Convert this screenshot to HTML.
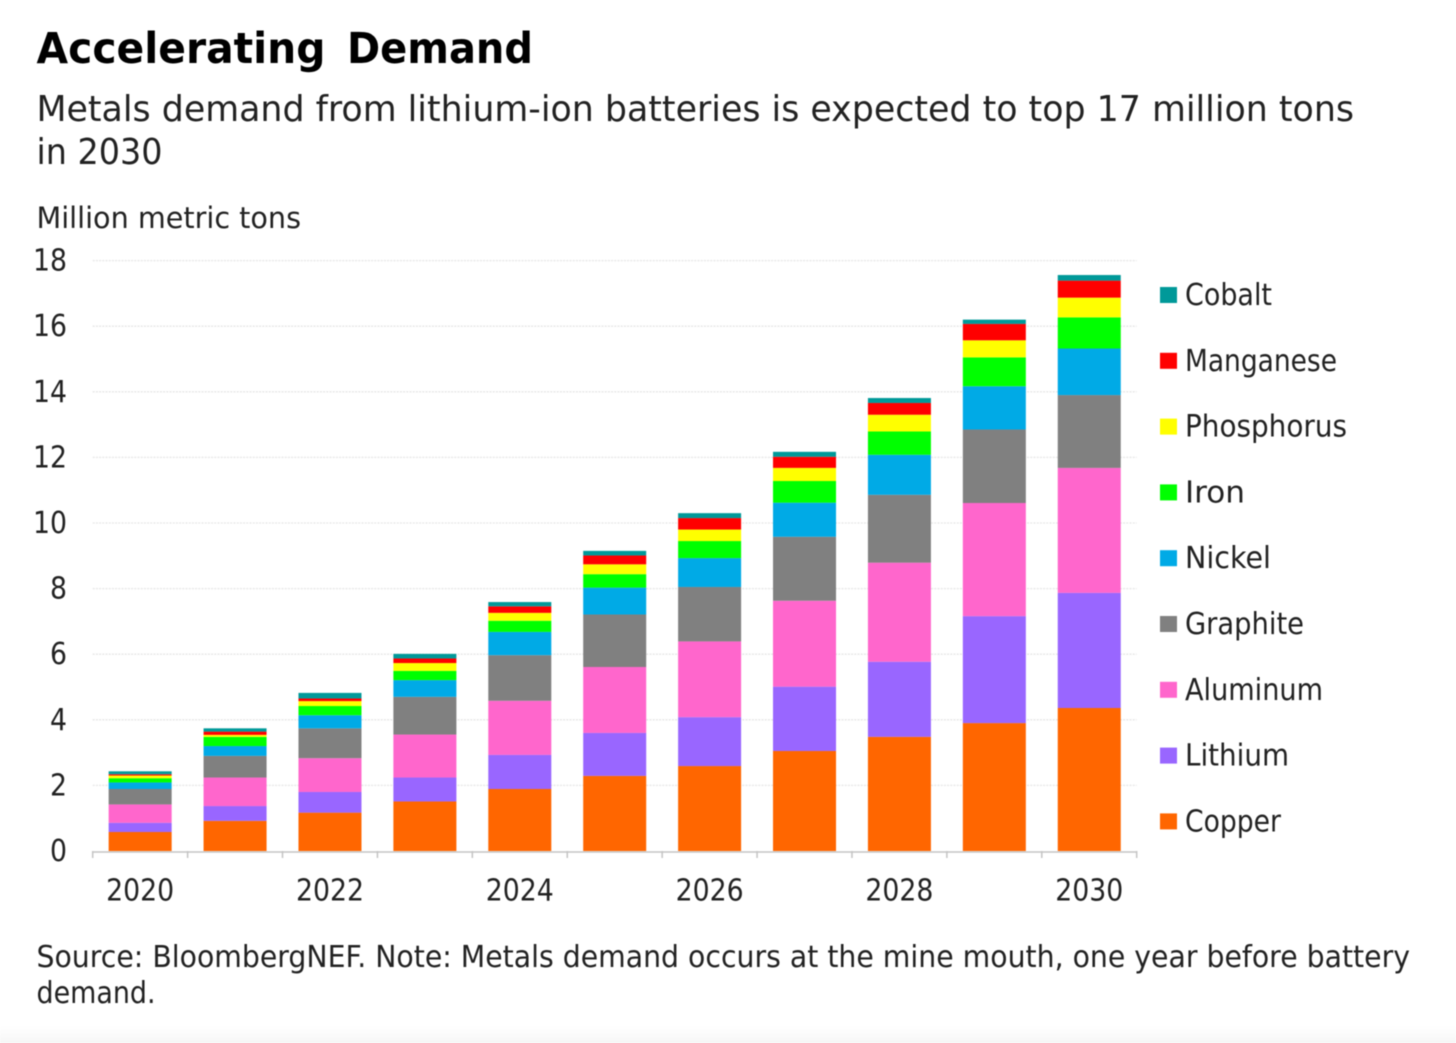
<!DOCTYPE html>
<html lang="en">
<head>
<meta charset="utf-8">
<title>Accelerating Demand</title>
<style>
html,body{margin:0;padding:0;background:#fff;width:1456px;height:1043px;overflow:hidden}
svg{display:block;filter:blur(0.6px)}
text{font-family:"DejaVu Sans","Liberation Sans",sans-serif;fill:#222}
</style>
</head>
<body>
<svg id="chart" xmlns="http://www.w3.org/2000/svg" width="1456" height="1043" viewBox="0 0 1456 1043">
  <defs>
    <linearGradient id="bottom-fade" x1="0" y1="0" x2="0" y2="1">
      <stop offset="0" stop-color="#ffffff"/>
      <stop offset="1" stop-color="#f6f6f6"/>
    </linearGradient>
  </defs>
  <rect x="0" y="0" width="1456" height="1043" fill="#fff"/>
  <rect x="0" y="1026" width="1456" height="17" fill="url(#bottom-fade)"/>
  <text x="36.5" y="63" font-size="43" font-weight="700" style="fill:#000" textLength="289" lengthAdjust="spacingAndGlyphs">Accelerating</text>
  <text x="347" y="63" font-size="43" font-weight="700" style="fill:#000" textLength="186" lengthAdjust="spacingAndGlyphs">Demand</text>
  <text x="36.5" y="121" font-size="36" textLength="1317.5" lengthAdjust="spacingAndGlyphs">Metals demand from lithium-ion batteries is expected to top 17 million tons</text>
  <text x="36.5" y="164" font-size="36" textLength="126" lengthAdjust="spacingAndGlyphs">in 2030</text>
  <text x="36.5" y="228" font-size="29" textLength="264.5" lengthAdjust="spacingAndGlyphs">Million metric tons</text>
  <g id="grid"></g>
  <g id="bars"></g>
  <g id="axes"></g>
  <g id="legend"></g>
  <text x="36.5" y="967" font-size="30" textLength="1373.5" lengthAdjust="spacingAndGlyphs">Source: BloombergNEF. Note: Metals demand occurs at the mine mouth, one year before battery</text>
  <text x="36.5" y="1003" font-size="30" textLength="119" lengthAdjust="spacingAndGlyphs">demand.</text>
</svg>
<script>
var years = [2020, 2021, 2022, 2023, 2024, 2025, 2026, 2027, 2028, 2029, 2030];
var copper = [0.58, 0.92, 1.17, 1.51, 1.89, 2.29, 2.59, 3.05, 3.48, 3.90, 4.36];
var lithium = [0.28, 0.45, 0.63, 0.73, 1.04, 1.31, 1.49, 1.96, 2.29, 3.26, 3.51];
var aluminum = [0.56, 0.87, 1.03, 1.31, 1.65, 2.01, 2.31, 2.62, 3.02, 3.45, 3.81];
var graphite = [0.47, 0.66, 0.91, 1.15, 1.39, 1.60, 1.66, 1.95, 2.07, 2.24, 2.22];
var nickel = [0.20, 0.30, 0.40, 0.51, 0.71, 0.82, 0.88, 1.04, 1.22, 1.32, 1.42];
var iron = [0.13, 0.28, 0.28, 0.28, 0.34, 0.41, 0.52, 0.66, 0.71, 0.88, 0.95];
var phosphorus = [0.08, 0.06, 0.15, 0.24, 0.24, 0.30, 0.35, 0.40, 0.51, 0.52, 0.60];
var manganese = [0.04, 0.10, 0.08, 0.14, 0.20, 0.27, 0.35, 0.34, 0.36, 0.50, 0.52];
var cobalt = [0.09, 0.10, 0.17, 0.14, 0.13, 0.14, 0.15, 0.15, 0.15, 0.13, 0.17];
var yTicks = [0, 2, 4, 6, 8, 10, 12, 14, 16, 18];
var xTickLabels = [2020, 2022, 2024, 2026, 2028, 2030];
var seriesNames = ["Copper", "Lithium", "Aluminum", "Graphite", "Nickel", "Iron", "Phosphorus", "Manganese", "Cobalt"];
var seriesValues = [copper, lithium, aluminum, graphite, nickel, iron, phosphorus, manganese, cobalt];
var seriesColors = ["#ff6600", "#9966ff", "#ff66cc", "#808080", "#00aae6", "#00ff00", "#ffff00", "#ff0000", "#009999"];

var NS = "http://www.w3.org/2000/svg";
var plotLeft = 92.7, plotRight = 1136.7, plotBase = 851, pxPerUnit = 32.8;
var slot = (plotRight - plotLeft) / years.length;
var barWidth = 63;

function yScale(v) { return plotBase - v * pxPerUnit; }
function xCenter(i) { return plotLeft + slot * (i + 0.5); }
function make(tag, attrs, parent) {
  var el = document.createElementNS(NS, tag);
  for (var k in attrs) el.setAttribute(k, attrs[k]);
  parent.appendChild(el);
  return el;
}
var gridG = document.getElementById("grid");
var barsG = document.getElementById("bars");
var axesG = document.getElementById("axes");
var legendG = document.getElementById("legend");

yTicks.forEach(function (t) {
  var label = make("text", { x: 67, y: yScale(t) + 10, "font-size": 30, "text-anchor": "end", textLength: t >= 10 ? 34 : 17, lengthAdjust: "spacingAndGlyphs" }, axesG);
  
  
  label.textContent = t;
  if (t > 0) {
    var line = make("line", { x1: plotLeft, x2: plotRight, y1: yScale(t), y2: yScale(t), stroke: "#e6e6e6", "stroke-width": 1.3, "stroke-dasharray": "2 1.2" }, gridG);
    
    
  }
});

years.forEach(function (yr, i) {
  var cum = 0;
  seriesValues.forEach(function (vals, s) {
    var v = vals[i];
    var r = make("rect", { x: xCenter(i) - barWidth / 2, y: yScale(cum + v), width: barWidth, height: v * pxPerUnit, fill: seriesColors[s] }, barsG);
    
    
    cum += v;
  });
});

var axisLine = make("line", { x1: plotLeft, x2: plotRight, y1: plotBase + 1, y2: plotBase + 1, stroke: "#c4c4c4", "stroke-width": 1.5 }, axesG);



for (var i = 0; i <= years.length; i++) {
  var tx = plotLeft + slot * i;
  var tick = make("line", { x1: tx, x2: tx, y1: plotBase, y2: plotBase + 7, stroke: "#c4c4c4", "stroke-width": 1.5 }, axesG);
  
  
}

xTickLabels.forEach(function (yr) {
  var idx = years.indexOf(yr);
  var lab = make("text", { x: xCenter(idx), y: 900.5, "font-size": 30, "text-anchor": "middle", textLength: 68, lengthAdjust: "spacingAndGlyphs" }, axesG);
  
  
  lab.textContent = yr;
});

var legendOrder = ["Cobalt", "Manganese", "Phosphorus", "Iron", "Nickel", "Graphite", "Aluminum", "Lithium", "Copper"];
var legendTextWidths = [87, 152, 162, 60, 86, 119, 138, 104, 96];
var legendStep = 65.8, legendTop = 295;
legendOrder.forEach(function (name, n) {
  var cy = legendTop + legendStep * n;
  var sw = make("rect", { x: 1160, y: cy - 8, width: 17, height: 16, fill: seriesColors[seriesNames.indexOf(name)] }, legendG);
  
  
  var tx = make("text", { x: 1185, y: cy + 10, "font-size": 30, textLength: legendTextWidths[n], lengthAdjust: "spacingAndGlyphs" }, legendG);
  
  
  tx.textContent = name;
});
</script>
</body>
</html>
